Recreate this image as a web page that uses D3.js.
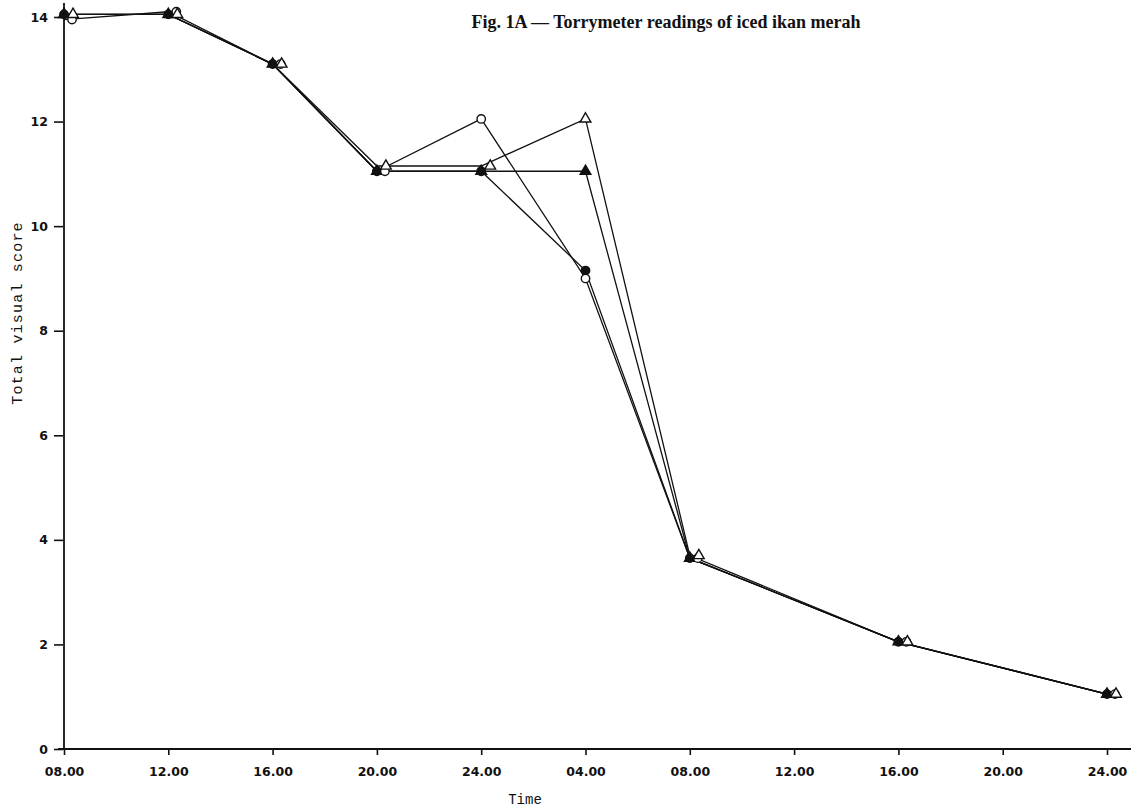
<!DOCTYPE html>
<html>
<head>
<meta charset="utf-8">
<script src="https://cdn.jsdelivr.net/npm/d3@7"></script>
<style>
  html, body { margin: 0; padding: 0; background: #fff; }
  svg { display: block; }
</style>
</head>
<body>
<svg id="chart" width="1131" height="812"></svg>
<script>
// ---- data ----
const times = [0, 4, 8, 12, 16, 20, 24, 32, 40]; // hours after 08.00 day 1
const tickHours = [0, 4, 8, 12, 16, 20, 24, 28, 32, 36, 40];
const tickLabels = ["08.00", "12.00", "16.00", "20.00", "24.00", "04.00", "08.00", "12.00", "16.00", "20.00", "24.00"];
const yTicks = [0, 2, 4, 6, 8, 10, 12, 14];

const openCircle     = [13.95, 14.1, 13.1, 11.05, 12.05, 9.0, 3.65, 2.05, 1.05];
const filledCircle   = [14.05, 14.05, 13.1, 11.05, 11.05, 9.15, 3.65, 2.05, 1.05];
const openTriangle   = [14.05, 14.05, 13.1, 11.15, 11.15, 12.05, 3.7, 2.05, 1.05];
const filledTriangle = [14.05, 14.05, 13.1, 11.05, 11.05, 11.05, 3.65, 2.05, 1.05];

const title = "Fig. 1A \u2014 Torrymeter readings of iced ikan merah";
const xTitle = "Time";
const yTitle = "Total visual score";

// ---- drawing ----
const svg = d3.select("#chart");
const x = d3.scaleLinear().domain([0, 40]).range([64, 1107]);
const y = d3.scaleLinear().domain([0, 14]).range([749, 17]);
const ink = "#111";

const series = [
  { values: filledCircle,   shape: "circle",   filled: true,  dx: 0 },
  { values: filledTriangle, shape: "triangle", filled: true,  dx: 0 },
  { values: openCircle,     shape: "circle",   filled: false, dx: 8 },
  { values: openTriangle,   shape: "triangle", filled: false, dx: 9 }
];

// axes
const tickFont = g => g.selectAll(".tick text")
  .attr("font-family", "'DejaVu Sans', sans-serif")
  .attr("font-weight", "bold")
  .attr("font-size", 12.5)
  .attr("fill", ink);

const xAxis = d3.axisBottom(x)
  .tickValues(tickHours)
  .tickFormat((d, i) => tickLabels[i])
  .tickSize(6)
  .tickSizeOuter(0)
  .tickPadding(12);
const gx = svg.append("g").attr("transform", "translate(0,749)").call(xAxis);
gx.select(".domain").remove();
gx.selectAll(".tick line").attr("stroke", ink).attr("stroke-width", 1.6);
tickFont(gx);

const yAxis = d3.axisLeft(y)
  .tickValues(yTicks)
  .tickFormat(d3.format("d"))
  .tickSize(9)
  .tickSizeOuter(0)
  .tickPadding(6);
const gy = svg.append("g").attr("transform", "translate(63,0)").call(yAxis);
gy.select(".domain").remove();
gy.selectAll(".tick line").attr("stroke", ink).attr("stroke-width", 1.6);
tickFont(gy);

// axis lines
svg.append("line")
  .attr("x1", 58).attr("x2", 1131)
  .attr("y1", y(0)).attr("y2", y(0))
  .attr("stroke", ink).attr("stroke-width", 1.8);
svg.append("line")
  .attr("x1", x(0)).attr("x2", x(0))
  .attr("y1", y(0)).attr("y2", 3)
  .attr("stroke", ink).attr("stroke-width", 1.8);

// lines through the time position
const line = d3.line();
series.forEach(s => {
  const pts = times.map((t, i) => [x(t), y(s.values[i])]);
  svg.append("path")
    .attr("d", line(pts))
    .attr("fill", "none")
    .attr("stroke", ink)
    .attr("stroke-width", 1.3);
});

// markers: dodge sideways only where they would overlap another series
const overlaps = (si, i) => series.some((o, oi) => oi !== si && Math.abs(o.values[i] - series[si].values[i]) < 0.12);
const tri = d3.symbol().type(d3.symbolTriangle).size(50);
series.forEach((s, si) => {
  const g = svg.append("g");
  times.forEach((t, i) => {
    const cx = x(t) + (overlaps(si, i) ? s.dx : 0), cy = y(s.values[i]);
    if (s.shape === "circle") {
      g.append("circle")
        .attr("cx", cx).attr("cy", cy).attr("r", 4.2)
        .attr("fill", s.filled ? ink : "#fff")
        .attr("stroke", ink).attr("stroke-width", 1.4);
    } else {
      g.append("path")
        .attr("d", tri())
        .attr("transform", `translate(${cx},${cy})`)
        .attr("fill", s.filled ? ink : "#fff")
        .attr("stroke", ink).attr("stroke-width", 1.4);
    }
  });
});

// titles
svg.append("text")
  .attr("x", 666).attr("y", 28)
  .attr("text-anchor", "middle")
  .attr("font-family", "'Liberation Serif', serif")
  .attr("font-weight", "bold")
  .attr("font-size", 18)
  .attr("fill", ink)
  .text(title);

svg.append("text")
  .attr("x", 525).attr("y", 804)
  .attr("text-anchor", "middle")
  .attr("font-family", "'Liberation Mono', monospace")
  .attr("font-size", 14)
  .attr("fill", ink)
  .text(xTitle);

svg.append("text")
  .attr("transform", "translate(22,313) rotate(-90)")
  .attr("text-anchor", "middle")
  .attr("font-family", "'Liberation Mono', monospace")
  .attr("font-size", 15)
  .attr("letter-spacing", 1.2)
  .attr("fill", ink)
  .text(yTitle);
</script>
</body>
</html>
